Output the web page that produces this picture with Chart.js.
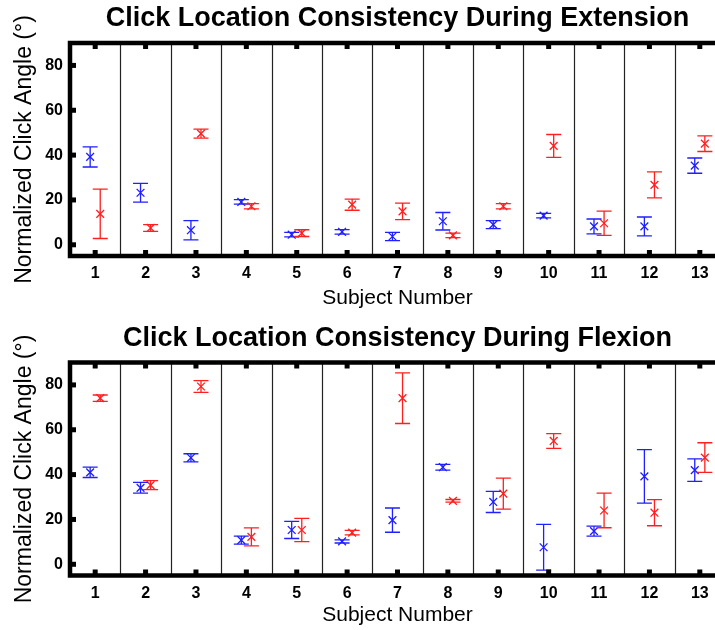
<!DOCTYPE html>
<html>
<head>
<meta charset="utf-8">
<script src="https://cdn.jsdelivr.net/npm/chart.js@4/dist/chart.umd.min.js"></script>
<style>
  body { margin: 0; overflow: hidden; background: #fff; }
  canvas { display: block; }
</style>
</head>
<body>
<canvas id="extCanvas" width="740" height="315"></canvas>
<canvas id="flexCanvas" width="740" height="315"></canvas>
<script>
var subjects = [1, 2, 3, 4, 5, 6, 7, 8, 9, 10, 11, 12, 13];
var yTicks = [0, 20, 40, 60, 80];

// extension
var extBlue    = [39.2, 23.2, 6.5, 19.1, 4.5, 5.8, 3.7, 10.5, 9.0, 13.0, 8.2, 8.2, 35.3];
var extBlueErr = [4.5, 4.2, 4.3, 1.0, 1.0, 1.0, 1.8, 3.9, 1.8, 1.0, 3.3, 4.2, 3.4];
var extRed     = [13.8, 7.5, 49.6, 17.2, 5.2, 17.9, 14.9, 4.2, 17.2, 44.1, 9.6, 26.7, 45.1];
var extRedErr  = [11.0, 1.5, 2.0, 1.2, 1.5, 2.5, 3.7, 1.0, 1.2, 5.1, 5.4, 5.8, 3.5];

// flexion
var flexBlue    = [41.0, 34.1, 47.5, 10.8, 15.3, 10.2, 19.7, 43.3, 27.8, 7.6, 14.8, 39.2, 42.0];
var flexBlueErr = [2.3, 2.4, 1.8, 1.8, 3.8, 0.7, 5.4, 1.3, 4.7, 10.2, 2.2, 11.9, 5.0];
var flexRed     = [74.1, 35.3, 79.3, 12.2, 15.3, 14.1, 74.1, 28.3, 31.5, 55.0, 24.0, 23.0, 47.6];
var flexRedErr  = [1.4, 2.0, 2.6, 4.0, 5.2, 1.0, 11.3, 0.6, 6.9, 3.3, 7.7, 5.8, 6.6];

var fontName = "'Liberation Sans', Arial, sans-serif";

// error bars drawn through the scales
var errorBars = {
    id: 'errorBars',
    afterDatasetsDraw: function (chart) {
        var ctx = chart.ctx;
        var xs = chart.scales.x, ys = chart.scales.y;
        chart.data.datasets.forEach(function (ds) {
            ctx.save();
            ctx.strokeStyle = ds.borderColor;
            ctx.lineWidth = 1.3;
            ds.data.forEach(function (p, i) {
                var x = xs.getPixelForValue(p.x);
                var y1 = ys.getPixelForValue(p.y + ds.err[i]);
                var y2 = ys.getPixelForValue(p.y - ds.err[i]);
                ctx.beginPath();
                ctx.moveTo(x, y1); ctx.lineTo(x, y2);
                ctx.moveTo(x - 7.5, y1); ctx.lineTo(x + 7.5, y1);
                ctx.moveTo(x - 7.5, y2); ctx.lineTo(x + 7.5, y2);
                ctx.stroke();
            });
            ctx.restore();
        });
    }
};

// separators, thick box and inward tick squares
var frame = {
    id: 'frame',
    beforeDatasetsDraw: function (chart) {
        var ctx = chart.ctx, a = chart.chartArea;
        var xs = chart.scales.x;
        ctx.save();
        ctx.strokeStyle = '#222';
        ctx.lineWidth = 1.2;
        for (var i = 0; i < subjects.length - 1; i++) {
            var x = Math.round(xs.getPixelForValue(subjects[i] + 0.5)) + 0.5;
            ctx.beginPath();
            ctx.moveTo(x, a.top); ctx.lineTo(x, a.bottom);
            ctx.stroke();
        }
        ctx.restore();
    },
    afterDraw: function (chart) {
        var ctx = chart.ctx, a = chart.chartArea;
        var xs = chart.scales.x, ys = chart.scales.y;
        ctx.save();
        ctx.strokeStyle = '#000';
        ctx.lineWidth = 4.5;
        ctx.strokeRect(a.left, a.top, a.right - a.left, a.bottom - a.top);
        ctx.fillStyle = '#000';
        subjects.forEach(function (s) {
            var x = xs.getPixelForValue(s);
            ctx.fillRect(x - 2.5, a.top, 5, 6);
            ctx.fillRect(x - 2.5, a.bottom - 6, 5, 6);
        });
        yTicks.forEach(function (v) {
            var y = ys.getPixelForValue(v);
            ctx.fillRect(a.left, y - 2.5, 6, 5);
            ctx.fillRect(a.right - 6, y - 2.5, 6, 5);
        });
        ctx.restore();
    }
};

function points(vals, off) {
    return vals.map(function (v, i) { return { x: subjects[i] + off, y: v }; });
}

function makeChart(id, title, blue, blueErr, red, redErr, titlePad, xBottomPad) {
    var mk = function (vals, err, off, color) {
        return {
            data: points(vals, off),
            err: err,
            borderColor: color,
            backgroundColor: color,
            pointStyle: 'crossRot',
            pointRadius: 5.5,
            borderWidth: 1.3,
            showLine: false
        };
    };
    return new Chart(document.getElementById(id), {
        type: 'scatter',
        data: {
            datasets: [
                mk(blue, blueErr, -0.1, '#1f1fff'),
                mk(red, redErr, 0.1, '#ff1f1f')
            ]
        },
        options: {
            responsive: false,
            animation: false,
            layout: { padding: { left: 0, right: 15, top: 0, bottom: 0 } },
            plugins: {
                legend: { display: false },
                tooltip: { enabled: false },
                title: {
                    display: true,
                    text: title,
                    color: '#000',
                    fullSize: false,
                    font: { family: fontName, size: 27, weight: 'bold' },
                    padding: titlePad
                }
            },
            scales: {
                x: {
                    type: 'linear',
                    min: 0.5,
                    max: 13.5,
                    grid: { display: false, drawTicks: false },
                    border: { display: false },
                    afterBuildTicks: function (s) {
                        s.ticks = subjects.map(function (v) { return { value: v }; });
                    },
                    afterFit: function (s) { s.height = 315 - (titlePad.top + 32.4 + titlePad.bottom) - 213; },
                    ticks: {
                        color: '#000',
                        padding: 8,
                        autoSkip: false,
                        maxRotation: 0,
                        font: { family: fontName, size: 16, weight: 'bold' }
                    },
                    title: {
                        display: true,
                        text: 'Subject Number',
                        color: '#000',
                        padding: { top: 0, bottom: xBottomPad },
                        font: { family: fontName, size: 21 }
                    }
                },
                y: {
                    min: -5,
                    max: 90,
                    grid: { display: false, drawTicks: false },
                    border: { display: false },
                    afterBuildTicks: function (s) {
                        s.ticks = yTicks.map(function (v) { return { value: v }; });
                    },
                    afterFit: function (s) { s.width = 70; },
                    ticks: {
                        color: '#000',
                        padding: 7,
                        font: { family: fontName, size: 16, weight: 'bold' }
                    },
                    title: {
                        display: true,
                        text: 'Normalized Click Angle (°)',
                        color: '#000',
                        padding: { top: 11, bottom: 0 },
                        font: { family: fontName, size: 23 }
                    }
                }
            }
        },
        plugins: [frame, errorBars]
    });
}

makeChart('extCanvas', 'Click Location Consistency During Extension',
    extBlue, extBlueErr, extRed, extRedErr, { top: 2.3, bottom: 8.3 }, 4);
makeChart('flexCanvas', 'Click Location Consistency During Flexion',
    flexBlue, flexBlueErr, flexRed, flexRedErr, { top: 7.3, bottom: 7.8 }, 2);
</script>
</body>
</html>
